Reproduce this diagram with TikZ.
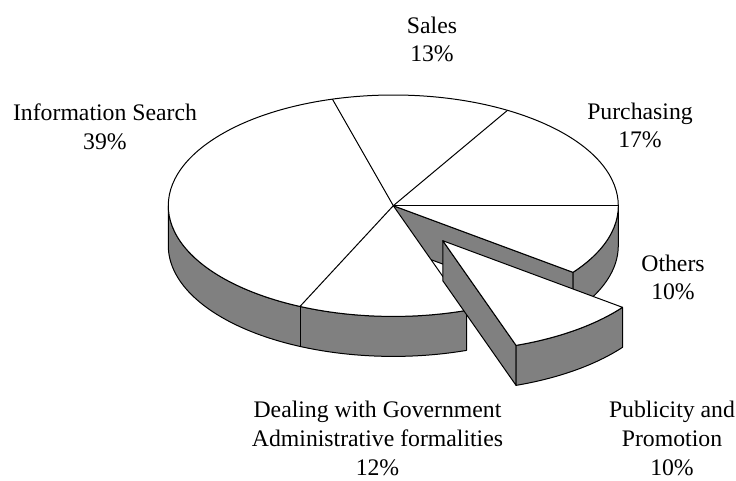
\documentclass[tikz,border=0pt]{standalone}
\usepackage{fontspec}
\setmainfont{Liberation Serif}

\begin{document}
\begin{tikzpicture}[x=0.75pt,y=0.75pt,
    face/.style={draw,line width=0.75pt,line join=round,fill=white},
    side/.style={draw,line width=0.75pt,line join=round,fill=gray},
    rim/.style={x radius=225,y radius=110.7},
    lbl/.style={align=center,anchor=north,inner sep=0pt,font=\fontsize{17.8}{21.5}\selectfont}]
\useasboundingbox (0,0) rectangle (736,-480);

% main body of the pie
\begin{scope}[shift={(393.3,-205.7)}]
  \draw[side] (0,0) -- (-37:225 and 110.7) -- ++(0,-40) -- (0,-40) -- cycle;
  \draw[side] (180:225 and 110.7) arc[rim,start angle=180,end angle=289]
    -- ++(0,-40) arc[rim,start angle=289,end angle=180] -- cycle;
  \draw[line width=0.75pt] (-114.5:225 and 110.7) -- ++(0,-40);
  \draw[side] (-37:225 and 110.7) arc[rim,start angle=-37,end angle=0]
    -- ++(0,-40) arc[rim,start angle=0,end angle=-37] -- cycle;
  \draw[face] (0,0) -- (-37:225 and 110.7) arc[rim,start angle=-37,end angle=289] -- cycle;
  \foreach \t in {0,59.5,105.7,-114.5}
    \draw[line width=0.75pt] (0,0) -- (\t:225 and 110.7);
\end{scope}

% pulled out slice
\begin{scope}[shift={(442.8,-240.7)}]
  \draw[side] (0,0) -- (-71:225 and 110.7) -- ++(0,-40) -- (0,-40) -- cycle;
  \draw[side] (-71:225 and 110.7) arc[rim,start angle=-71,end angle=-37]
    -- ++(0,-40) arc[rim,start angle=-37,end angle=-71] -- cycle;
  \draw[face] (0,0) -- (-71:225 and 110.7) arc[rim,start angle=-71,end angle=-37] -- cycle;
\end{scope}

% labels
\node[lbl] (sales) at (432,-16.5) {Sales\\13\%};
\node[lbl] (search) at (105,-103.5) {Information Search\\39\%};
\node[lbl] (purch) at (640,-102.5) {Purchasing\\17\%};
\node[lbl] (others) at (673,-254.5) {Others\\10\%};
\node[lbl] (promo) at (672,-401) {Publicity and\\Promotion\\10\%};
\node[lbl] (govt) at (377.5,-401) {Dealing with Government\\Administrative formalities\\12\%};
\end{tikzpicture}
\end{document}
